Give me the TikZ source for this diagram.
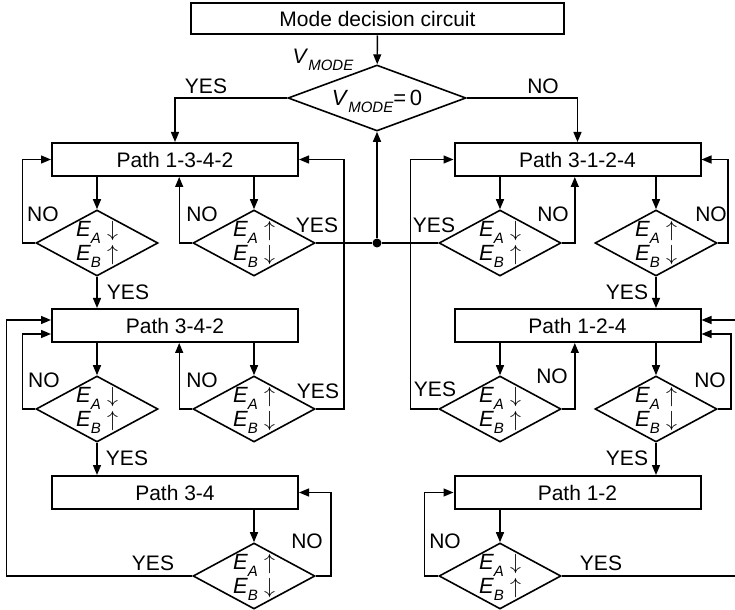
\documentclass[tikz,border=0pt]{standalone}
\usepackage{fontspec}
\setmainfont{Liberation Sans}
\usetikzlibrary{shapes.geometric,arrows.meta}
\newcommand{\lowidx}[1]{\raisebox{-3.5pt}[0pt][0pt]{\fontsize{7.5}{8}\selectfont\itshape #1}}
\newcommand{\eadown}{\textit{E}\lowidx{A} $\downarrow$\\\textit{E}\lowidx{B} $\uparrow$}
\newcommand{\eaup}{\textit{E}\lowidx{A} $\uparrow$\\\textit{E}\lowidx{B} $\downarrow$}

\begin{document}
\begin{tikzpicture}[x=0.5pt, y=-0.5pt, font=\fontsize{10.5}{12}\selectfont,
   box/.style={draw, line width=1pt, minimum width=123pt, minimum height=16.5pt, inner sep=0pt},
   cond/.style={draw, diamond, shape aspect=1.85, line width=0.8pt, minimum width=61pt, minimum height=33pt, inner sep=-1pt, align=center, font=\fontsize{11}{12}\selectfont},
   arr/.style={-{Triangle[length=5pt,width=4pt]}, line width=0.7pt},
   wire/.style={line width=0.7pt},
   lbl/.style={inner sep=0pt},
   dot/.style={circle, fill, inner sep=0pt, minimum size=4.5pt}]
   \useasboundingbox (0,0) rectangle (735,610);

   \node[box, minimum width=186.5pt, minimum height=15.5pt] (mode) at (377.5,19) {Mode decision circuit};
   \node[cond, shape aspect=2.7, minimum width=89pt] (dec) at (377,98) {\textit{V}\lowidx{MODE}=\,0};
   \node[lbl] (vin) at (323,56) {\textit{V}\lowidx{MODE}};

   \node[box] (pA) at (175,159.5) {Path 1-3-4-2};
   \node[box] (pB) at (175,325.5) {Path 3-4-2};
   \node[box] (pC) at (175,492.5) {Path 3-4};
   \node[box] (pD) at (577.5,159.5) {Path 3-1-2-4};
   \node[box] (pE) at (577.5,325.5) {Path 1-2-4};
   \node[box] (pF) at (577.5,492.5) {Path 1-2};

   \node[cond] (dA1) at (97,243) {\eadown};
   \node[cond] (dA2) at (254,243) {\eaup};
   \node[cond] (dB1) at (97,409) {\eadown};
   \node[cond] (dB2) at (254,409) {\eaup};
   \node[cond] (dC) at (254,576) {\eaup};
   \node[cond] (dD1) at (500,243) {\eadown};
   \node[cond] (dD2) at (656,243) {\eaup};
   \node[cond] (dE1) at (500,409) {\eadown};
   \node[cond] (dE2) at (656,409) {\eaup};
   \node[cond] (dF) at (500,576) {\eadown};

   \node[dot] (jn) at (377,243) {};

   \draw[arr] (mode) -- (dec);
   \draw[arr] (dec.west) -| (pA.north);
   \draw[arr] (dec.east) -| (pD.north);
   \draw[arr] (jn) -- (dec.south);
   \draw[wire] (dA2.east) -- (jn);
   \draw[wire] (dD1.west) -- (jn);

   \draw[arr] (dA1 |- pA.south) -- (dA1.north);
   \draw[arr] (dA2 |- pA.south) -- (dA2.north);
   \draw[arr] (dA1.west) -- ++(-13,0) |- (pA.west);
   \draw[arr] (dA2.west) -| ([xshift=-6.5pt]dA2.west |- pA.south);
   \draw[arr] (dA1.south) -- (dA1 |- pB.north);

   \draw[arr] (dD1 |- pD.south) -- (dD1.north);
   \draw[arr] (dD2 |- pD.south) -- (dD2.north);
   \draw[arr] (dD1.east) -| ([xshift=6.5pt]dD1.east |- pD.south);
   \draw[arr] (dD2.east) -- ++(10,0) |- (pD.east);
   \draw[arr] (dD2.south) -- (dD2 |- pE.north);

   \draw[arr] (dB1 |- pB.south) -- (dB1.north);
   \draw[arr] (dB2 |- pB.south) -- (dB2.north);
   \draw[arr] (dB1.west) -- ++(-13,0) |- ([yshift=-4.25pt]pB.west);
   \draw[arr] (dB2.west) -| ([xshift=-6.5pt]dB2.west |- pB.south);
   \draw[arr] (dB2.east) -- ++(28,0) |- (pA.east);
   \draw[arr] (dB1.south) -- (dB1 |- pC.north);

   \draw[arr] (dE1 |- pE.south) -- (dE1.north);
   \draw[arr] (dE2 |- pE.south) -- (dE2.north);
   \draw[arr] (dE1.west) -- ++(-28,0) |- (pD.west);
   \draw[arr] (dE1.east) -| ([xshift=6.5pt]dE1.east |- pE.south);
   \draw[arr] (dE2.east) -- ++(13,0) |- ([yshift=-4.25pt]pE.east);
   \draw[arr] (dE2.south) -- (dE2 |- pF.north);

   \draw[arr] (dC |- pC.south) -- (dC.north);
   \draw[arr] (dC.east) -- ++(15,0) |- (pC.east);
   \draw[arr] (dC.west) -- ++(-186,0) |- ([yshift=2.75pt]pB.west);

   \draw[arr] (dF |- pF.south) -- (dF.north);
   \draw[arr] (dF.west) -- ++(-14,0) |- (pF.west);
   \draw[arr] (dF.east) -- ++(175,0) |- ([yshift=2.75pt]pE.east);

   \node[lbl] (yM) at (206,86) {YES};
   \node[lbl] (nM) at (543,86) {NO};
   \node[lbl] (nA1) at (43,214) {NO};
   \node[lbl] (nA2) at (202,214) {NO};
   \node[lbl] (yA2) at (317,225) {YES};
   \node[lbl] (yA1) at (128,292) {YES};
   \node[lbl] (yD1) at (434,225) {YES};
   \node[lbl] (nD1) at (553,214) {NO};
   \node[lbl] (nD2) at (711,214) {NO};
   \node[lbl] (yD2) at (627,292) {YES};
   \node[lbl] (nB1) at (44,380) {NO};
   \node[lbl] (nB2) at (202,380) {NO};
   \node[lbl] (yB2) at (318,391) {YES};
   \node[lbl] (yB1) at (127,458) {YES};
   \node[lbl] (nC) at (307,541) {NO};
   \node[lbl] (yC) at (153,563) {YES};
   \node[lbl] (yE1) at (435,389) {YES};
   \node[lbl] (nE1) at (552,376) {NO};
   \node[lbl] (nE2) at (710,380) {NO};
   \node[lbl] (yE2) at (627,458) {YES};
   \node[lbl] (nF) at (445,541) {NO};
   \node[lbl] (yF) at (601,563) {YES};
\end{tikzpicture}
\end{document}
